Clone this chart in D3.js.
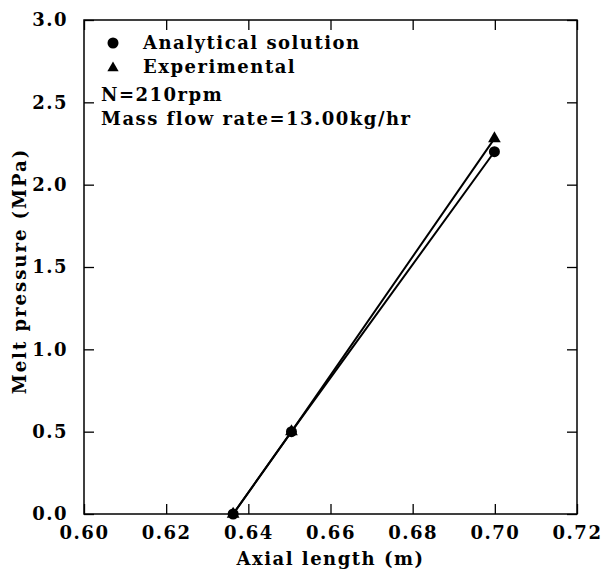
<!DOCTYPE html>
<html><head><meta charset="utf-8">
<script src="https://cdn.jsdelivr.net/npm/d3@7"></script>
<style>body{margin:0;background:#fff}text{font-family:"DejaVu Serif",serif;font-weight:bold;fill:#000}</style>
</head><body>
<script>
const xTicks = [0.60,0.62,0.64,0.66,0.68,0.70,0.72];
const yTicks = [0.0,0.5,1.0,1.5,2.0,2.5,3.0];
const analyticalX = [0.6363,0.6505,0.6999];
const analyticalY = [0.0,0.5,2.2];
const experimentalX = [0.6363,0.6505,0.6999];
const experimentalY = [0.0,0.5,2.28];
const legendLabels = ["Analytical solution","Experimental"];
const notes = ["N=210rpm","Mass flow rate=13.00kg/hr"];
const xTitle = "Axial length (m)";
const yTitle = "Melt pressure (MPa)";

const W=603,H=572, L=84,R=577,T=20,B=514;
const svg=d3.select("body").append("svg").attr("width",W).attr("height",H);
const x=d3.scaleLinear().domain([0.60,0.72]).range([L,R]);
const y=d3.scaleLinear().domain([0,3]).range([B,T]);
const fs=18, ls="1.5px";
svg.append("rect").attr("x",L).attr("y",T).attr("width",R-L).attr("height",B-T).attr("fill","none").attr("stroke","#000").attr("stroke-width",1.5);
const tl=10;
const bx=svg.append("g").attr("transform",`translate(0,${B})`).call(d3.axisBottom(x).tickValues(xTicks).tickSize(-tl).tickFormat(d3.format(".2f")).tickPadding(14));
const tx=svg.append("g").attr("transform",`translate(0,${T})`).call(d3.axisTop(x).tickValues(xTicks).tickSize(-tl).tickFormat(""));
const ly=svg.append("g").attr("transform",`translate(${L},0)`).call(d3.axisLeft(y).tickValues(yTicks).tickSize(-tl).tickFormat(d3.format(".1f")).tickPadding(16));
const ry=svg.append("g").attr("transform",`translate(${R},0)`).call(d3.axisRight(y).tickValues(yTicks).tickSize(-tl).tickFormat(""));
[bx,tx,ly,ry].forEach(g=>{g.select(".domain").remove();g.selectAll("line").attr("stroke","#000").attr("stroke-width",1.3);g.selectAll("text").style("font-size",fs+"px").style("letter-spacing",ls);});
bx.selectAll("text").attr("dy","0.6em");

const line=d3.line().x(d=>x(d[0])).y(d=>y(d[1]));
const aData=analyticalX.map((v,i)=>[v,analyticalY[i]]);
const eData=experimentalX.map((v,i)=>[v,experimentalY[i]]);
svg.append("path").datum(aData).attr("d",line).attr("fill","none").attr("stroke","#000").attr("stroke-width",2);
svg.append("path").datum(eData).attr("d",line).attr("fill","none").attr("stroke","#000").attr("stroke-width",2);
const tri=d3.symbol().type(d3.symbolTriangle).size(70);
svg.selectAll(".tri").data(eData).enter().append("path").attr("d",tri).attr("transform",d=>`translate(${x(d[0])},${y(d[1])})`).attr("fill","#000");
svg.selectAll(".circ").data(aData).enter().append("circle").attr("cx",d=>x(d[0])).attr("cy",d=>y(d[1])).attr("r",5.5).attr("fill","#000");

// legend
svg.append("circle").attr("cx",113).attr("cy",43).attr("r",5.5).attr("fill","#000");
svg.append("path").attr("d",d3.symbol().type(d3.symbolTriangle).size(55)).attr("transform","translate(113,68)").attr("fill","#000");
svg.selectAll(".lg").data(legendLabels).enter().append("text").attr("x",143).attr("y",(d,i)=>49+i*24).text(d=>d).style("font-size",fs+"px").style("letter-spacing",ls);
svg.selectAll(".nt").data(notes).enter().append("text").attr("x",101).attr("y",(d,i)=>101+i*24).text(d=>d).style("font-size",fs+"px").style("letter-spacing",ls);

svg.append("text").attr("x",(L+R)/2).attr("y",565).attr("text-anchor","middle").text(xTitle).style("font-size",fs+"px").style("letter-spacing",ls);
svg.append("text").attr("transform",`translate(26,271) rotate(-90)`).attr("text-anchor","middle").text(yTitle).style("font-size",fs+"px").style("letter-spacing","2px");
</script>
</body></html>
